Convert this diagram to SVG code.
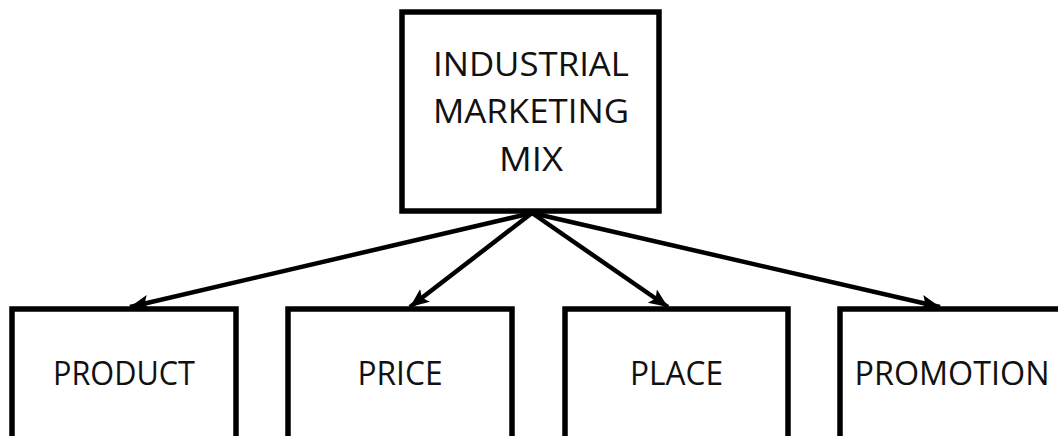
<svg xmlns="http://www.w3.org/2000/svg" width="1058" height="436" viewBox="0 0 1058 436">
<style>
.box{fill:#fff;stroke:#000;stroke-width:5.5}
.t{font-family:"Open Sans","Liberation Sans",sans-serif;font-size:33px;fill:#111;text-anchor:middle}
.c{stroke:#000;stroke-width:4.5;fill:none}
</style>
<defs>
<marker id="ah" markerUnits="userSpaceOnUse" markerWidth="22" markerHeight="18" refX="19" refY="9" orient="auto">
<path d="M0,1 L19,9 L0,17 L4,9 Z" fill="#000"/>
</marker>
</defs>
<rect width="1058" height="436" fill="#fff"/>
<g id="mix">
<rect class="box" x="402" y="12" width="257" height="199"/>
<text class="t" x="531" y="76" textLength="196" lengthAdjust="spacingAndGlyphs">INDUSTRIAL</text>
<text class="t" x="531" y="123" textLength="196" lengthAdjust="spacingAndGlyphs">MARKETING</text>
<text class="t" x="531" y="171" textLength="64" lengthAdjust="spacingAndGlyphs">MIX</text>
</g>
<g id="product">
<rect class="box" x="12" y="309" width="224" height="140"/>
<text class="t" x="124" y="385" textLength="142" lengthAdjust="spacingAndGlyphs">PRODUCT</text>
</g>
<g id="price">
<rect class="box" x="288" y="309" width="224" height="140"/>
<text class="t" x="400" y="385" textLength="85" lengthAdjust="spacingAndGlyphs">PRICE</text>
</g>
<g id="place">
<rect class="box" x="565" y="309" width="223" height="140"/>
<text class="t" x="676.5" y="385" textLength="93" lengthAdjust="spacingAndGlyphs">PLACE</text>
</g>
<g id="promotion">
<rect class="box" x="840" y="309" width="224" height="140"/>
<text class="t" x="952" y="385" textLength="195" lengthAdjust="spacingAndGlyphs">PROMOTION</text>
</g>
<g id="connectors">
<line class="c" x1="532" y1="213" x2="130" y2="307" marker-end="url(#ah)"/>
<line class="c" x1="532" y1="213" x2="410" y2="307" marker-end="url(#ah)"/>
<line class="c" x1="532" y1="213" x2="668" y2="307" marker-end="url(#ah)"/>
<line class="c" x1="532" y1="213" x2="940" y2="307" marker-end="url(#ah)"/>
</g>
</svg>
